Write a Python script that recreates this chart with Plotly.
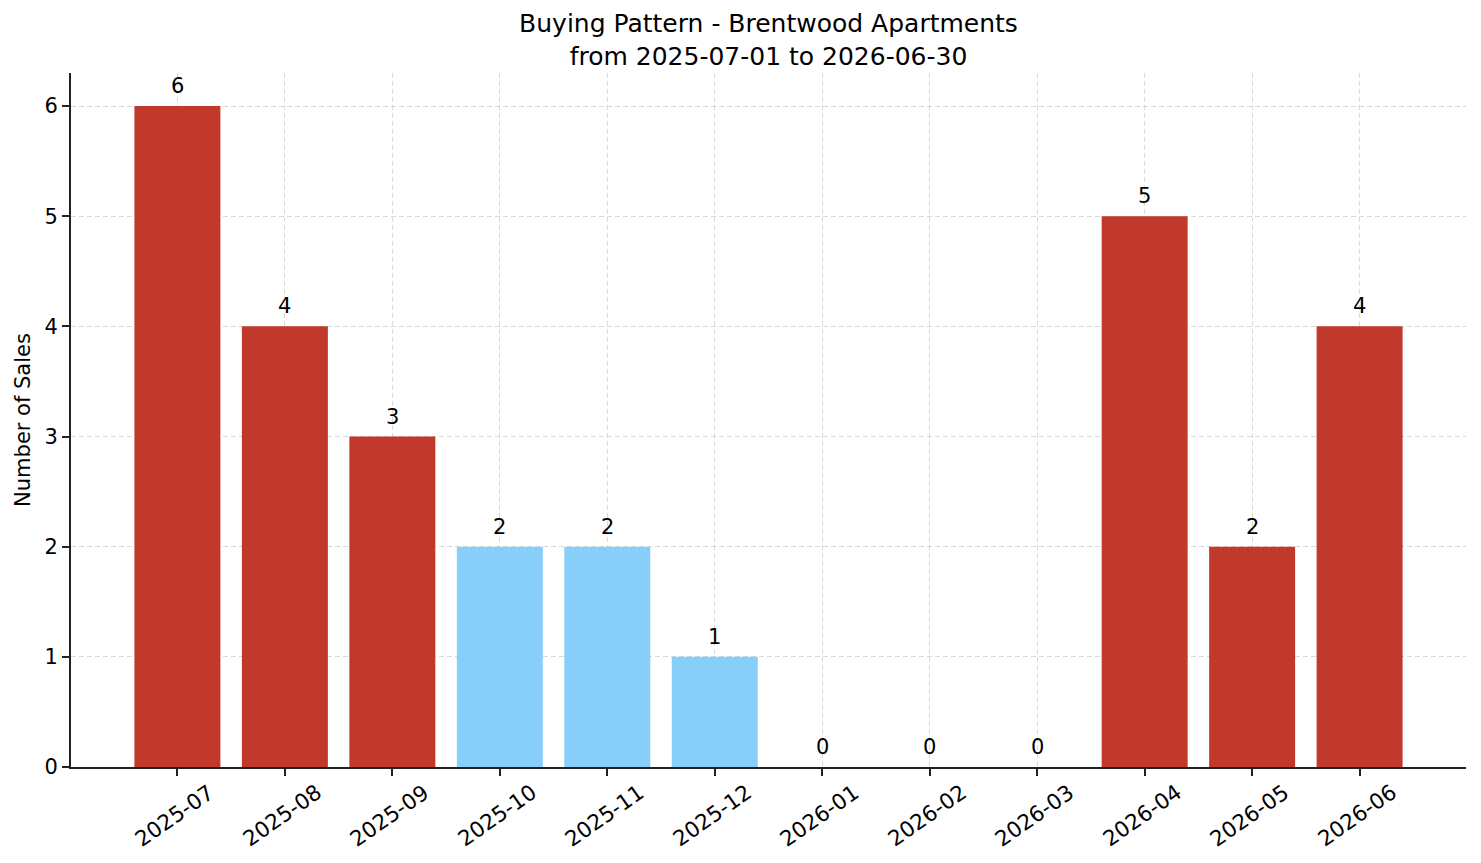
import plotly.graph_objects as go

# ---- data ----
months = ["2025-07", "2025-08", "2025-09", "2025-10", "2025-11", "2025-12",
          "2026-01", "2026-02", "2026-03", "2026-04", "2026-05", "2026-06"]
sales = [6, 4, 3, 2, 2, 1, 0, 0, 0, 5, 2, 4]
bar_colors = ["#c0392b", "#c0392b", "#c0392b", "#87cefa", "#87cefa", "#87cefa",
              "#87cefa", "#87cefa", "#87cefa", "#c0392b", "#c0392b", "#c0392b"]
title_text = "Buying Pattern - Brentwood Apartments<br>from 2025-07-01 to 2026-06-30"
y_title = "Number of Sales"

FONT = "DejaVu Sans"
grid_col = "rgba(185,185,185,0.55)"

fig = go.Figure()
fig.add_trace(go.Bar(x=months, y=sales, marker=dict(color=bar_colors, line=dict(width=0)),
                     showlegend=False, hoverinfo="x+y"))

# value labels above each bar
for m, v in zip(months, sales):
    fig.add_annotation(x=m, y=v, xref="x", yref="y", text=str(v), showarrow=False,
                       xanchor="center", yanchor="bottom", yshift=6,
                       font=dict(family=FONT, size=21, color="black"))

# rotated, centred month labels under each tick
for m in months:
    fig.add_annotation(x=m, y=0, xref="x", yref="y", text=m, showarrow=False,
                       textangle=-35, xanchor="center", yanchor="middle",
                       yshift=-48, xshift=-3,
                       font=dict(family=FONT, size=21.5, color="black"))

fig.update_layout(
    width=1481, height=863, autosize=False,
    margin=dict(l=71, r=15, t=73, b=96, pad=0),
    paper_bgcolor="white", plot_bgcolor="white",
    font=dict(family=FONT, size=21, color="black"),
    bargap=0.2,
    title=dict(text=title_text, x=0.5, xref="paper", xanchor="center",
               y=1 - 32 / 863, yref="container", yanchor="top",
               font=dict(family=FONT, size=25, color="black")),
    xaxis=dict(type="category", range=[-0.99, 11.99], showgrid=True, gridcolor=grid_col,
               griddash="5px,3px", gridwidth=1, showline=True, linecolor="#222",
               linewidth=2, ticks="outside", ticklen=7, tickwidth=2, tickcolor="#222",
               showticklabels=False, zeroline=False, layer="above traces"),
    yaxis=dict(range=[0, 6.3], tick0=0, dtick=1, showgrid=True, gridcolor=grid_col,
               griddash="5px,3px", gridwidth=1, showline=True, linecolor="#222",
               linewidth=2, ticks="outside", ticklen=7, tickwidth=2, tickcolor="#222",
               tickfont=dict(family=FONT, size=21, color="black"), zeroline=False,
               layer="above traces",
               title=dict(text=y_title, standoff=8,
                          font=dict(family=FONT, size=21, color="black"))),
)

fig.write_html("out.html")
